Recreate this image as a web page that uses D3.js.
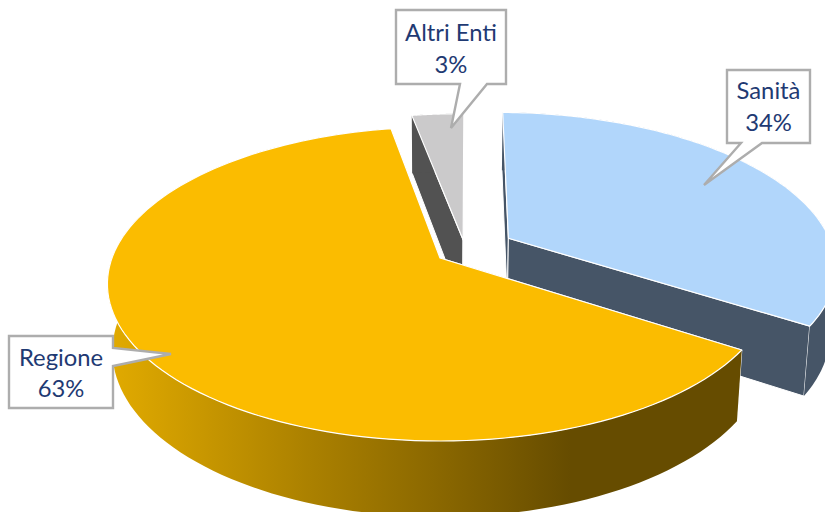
<!DOCTYPE html>
<html>
<head>
<meta charset="utf-8">
<script src="https://cdn.jsdelivr.net/npm/d3@7"></script>
<style>
    html, body { margin: 0; padding: 0; background: #fff; overflow: hidden; }
    svg { display: block; }
    text { font-family: Lato, "Open Sans", sans-serif; font-size: 23.8px; fill: #1f3a73; text-anchor: middle; }
</style>
</head>
<body>
<svg id="chart" width="825" height="512"></svg>
<script>
const categories = ["Sanità", "Regione", "Altri Enti"];
const shares = [34, 63, 3];
const shareLabels = ["34%", "63%", "3%"];

const topColors = ["#b1d6fb", "#fbbc00", "#cbcacb"];
const wallColors = ["#465567", "url(#regioneWall)", "#525252"];

// how far each slice is pulled out of the pie, in disk units
const pullU = [0.213, 0, 0.072];
const pullV = [-0.132, 0, -0.12];

// callout boxes, by category
const boxes = [
    {x: 727, y: 70, w: 83, h: 73, base: [[741, 143], [762, 143]], tip: [704, 185], lines: [99, 131]},
    {x: 9, y: 336, w: 104, h: 72, base: [[113, 366], [113, 348]], tip: [171, 354], lines: [366, 397]},
    {x: 396, y: 10, w: 110, h: 74, base: [[460, 84], [487, 84]], tip: [451, 128], lines: [41, 73]}
];

// perspective: far side of the disk is smaller, walls converge downwards
const persp = 0.1656;
const converge = 0.015;
const depth = 0.44;
const firstAngle = 0.014;

const svg = d3.select("#chart");

const x = d3.scaleLinear().domain([-1, 1]).range([112, 768]);
const y = d3.scaleLinear().domain([-1, 1]).range([105.3, 410.7]);

const defs = svg.append("defs");
const grad = defs.append("linearGradient").attr("id", "regioneWall");
[[0, "#e2ab00"], [.3, "#ae8300"], [.54, "#876500"], [.73, "#664c00"], [1, "#664c00"]].forEach(s => {
    grad.append("stop").attr("offset", s[0]).attr("stop-color", s[1]);
});

function project(u, v, z) {
    const f = 1 / (1 - persp * v + converge * z);
    return [x(u * f), y((v + depth * z) * f)];
}

const pie = d3.pie().sort(null).value(d => d)
    .startAngle(firstAngle).endAngle(firstAngle + 2 * Math.PI);
const slices = pie(shares);
const line = d3.line();

function rim(s, i, z) {
    const steps = d3.range(0, 1.0001, 1 / 120);
    const a = d3.scaleLinear().domain([0, 1]).range([s.startAngle, s.endAngle]);
    return steps.map(t => project(pullU[i] + Math.sin(a(t)), pullV[i] - Math.cos(a(t)), z));
}

function drawSlice(i) {
    const s = slices[i];
    const g = svg.append("g").attr("class", "slice");
    const apexTop = project(pullU[i], pullV[i], 0);
    const apexBottom = project(pullU[i], pullV[i], 1);
    const top = rim(s, i, 0);
    const bottom = rim(s, i, 1);

    // radial walls
    [[top[0], bottom[0]], [top[top.length - 1], bottom[bottom.length - 1]]].forEach(e => {
        g.append("path")
            .attr("d", line([apexTop, e[0], e[1], apexBottom]) + "Z")
            .attr("fill", i === 1 ? "#664c00" : wallColors[i])
            .attr("stroke", "#fff")
            .attr("stroke-width", 1);
    });

    // outer wall
    g.append("path")
        .attr("d", line(top.concat(bottom.slice().reverse())) + "Z")
        .attr("fill", wallColors[i]);

    // top face
    g.append("path")
        .attr("d", line([apexTop].concat(top)) + "Z")
        .attr("fill", topColors[i])
        .attr("stroke", "#fff")
        .attr("stroke-width", 1.2)
        .attr("stroke-linejoin", "round");
}

// back to front
[2, 0, 1].forEach(drawSlice);

const labels = svg.append("g").attr("class", "labels");
boxes.forEach((b, i) => {
    const r = [[b.x, b.y], [b.x + b.w, b.y], [b.x + b.w, b.y + b.h], [b.x, b.y + b.h]];
    // insert the pointer in the side of the box that it leaves from
    const side = b.base[0][1] === b.y + b.h && b.base[1][1] === b.y + b.h ? 3 : 2;
    const outline = side === 3
        ? [r[0], r[1], r[2], b.base[1], b.tip, b.base[0], r[3]]
        : [r[0], r[1], b.base[1], b.tip, b.base[0], r[2], r[3]];
    labels.append("path")
        .attr("d", line(outline) + "Z")
        .attr("fill", "#fff")
        .attr("stroke", "#adadad")
        .attr("stroke-width", 2.4);
    const cx = b.x + b.w / 2;
    labels.append("text").attr("x", cx).attr("y", b.lines[0]).text(categories[i]);
    labels.append("text").attr("x", cx).attr("y", b.lines[1]).text(shareLabels[i]);
});
</script>
</body>
</html>
